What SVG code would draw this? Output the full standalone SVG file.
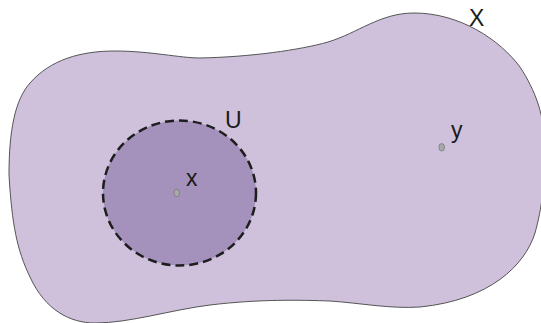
<svg xmlns="http://www.w3.org/2000/svg" width="541" height="323" viewBox="0 0 541 323">
<style>
.lbl{font-family:"Liberation Sans",Arial,sans-serif;font-size:23px;fill:#1a1a1a}
.pt{fill:#a9a9a9;stroke:#7a7a7a;stroke-width:0.8}
</style>
<rect width="541" height="323" fill="#ffffff"/>
<g id="space-X">
<path d="M 9,175 C 9,130 15,100 30,83 C 50,60 80,51 115,51 C 150,51 180,58 200,58 C 250,57 300,50 328,42 C 358,33 380,13 414,13 C 460,13 500,40 520,67 C 535,90 545,115 545,150 C 545,190 540,215 535,233 C 525,265 490,300 420,307 C 390,309 360,303 330,301 C 300,300 260,299 210,305 C 170,310 130,323 95,323 C 70,323 45,310 30,277 C 17,250 12,225 9,175 Z" fill="#cfc1dc" stroke="#555" stroke-width="1"/>
<text class="lbl" x="469" y="26">X</text>
</g>
<g id="open-U">
<ellipse cx="179.5" cy="193" rx="76.5" ry="72.5" fill="#a492bd" stroke="#1e1e1e" stroke-width="2.5" stroke-dasharray="9,5"/>
<text class="lbl" x="225" y="127.5">U</text>
</g>
<g id="point-x">
<ellipse class="pt" cx="176.7" cy="193" rx="2.8" ry="3.8"/>
<text class="lbl" x="186" y="186">x</text>
</g>
<g id="point-y">
<ellipse class="pt" cx="441.7" cy="147.3" rx="2.8" ry="3.8"/>
<text class="lbl" x="451" y="138">y</text>
</g>
<g id="connectors"/>
</svg>
